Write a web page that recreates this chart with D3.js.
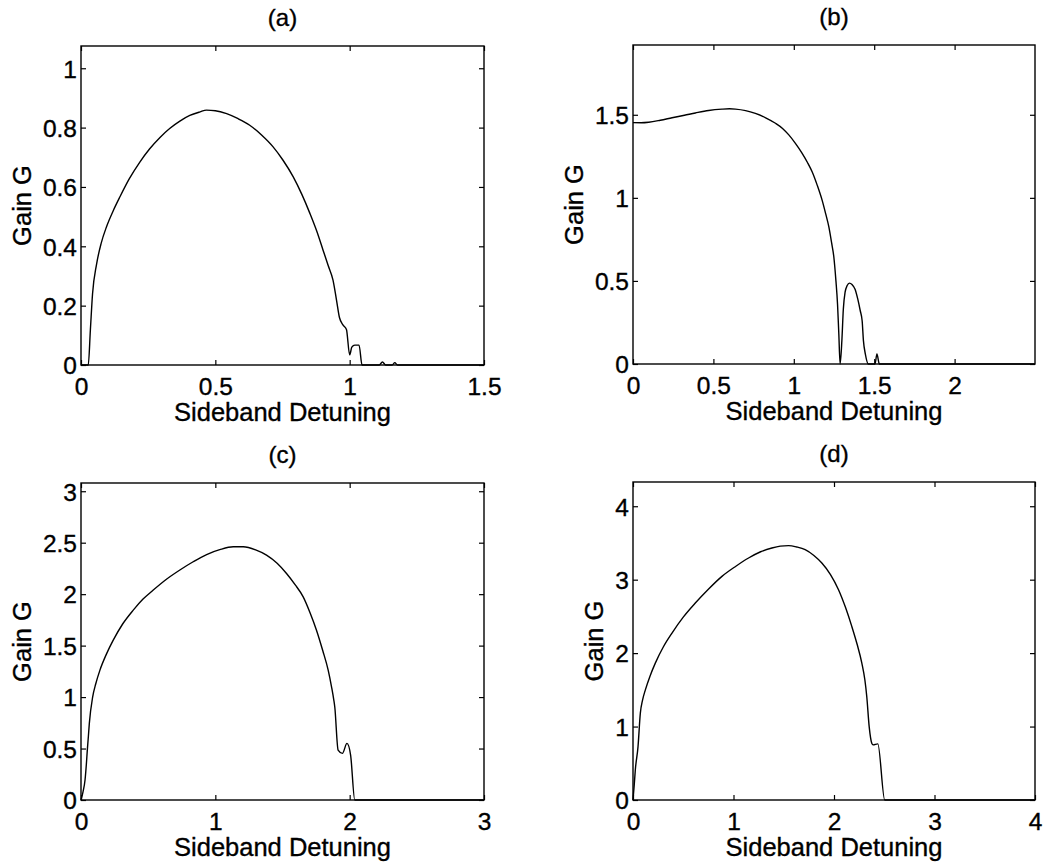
<!DOCTYPE html>
<html>
<head>
<meta charset="utf-8">
<script src="https://cdn.jsdelivr.net/npm/d3@7"></script>
<style>
  body { margin: 0; background: #fff; }
  svg { display: block; font-family: 'Liberation Sans', Arial, Helvetica, sans-serif; }
  svg text { fill: #000; stroke: #000; stroke-width: 0.35px; }
  .tick line { stroke: #000; stroke-width: 1.2; }
  .tick text { font-size: 24.5px; }
</style>
</head>
<body>
<svg id="chart" width="1045" height="867"></svg>
<script>
// values: [sideband detuning, gain G]
const gainA = [
  [0, 0], [0.027, 0], [0.035, 0.12], [0.043, 0.24], [0.058, 0.34], [0.075, 0.41],
  [0.095, 0.466], [0.12, 0.52], [0.145, 0.567], [0.18, 0.628], [0.219, 0.684],
  [0.255, 0.728], [0.294, 0.767], [0.33, 0.797], [0.368, 0.822], [0.405, 0.841],
  [0.443, 0.853], [0.467, 0.859], [0.5, 0.857], [0.542, 0.847], [0.585, 0.83],
  [0.628, 0.808], [0.672, 0.775], [0.715, 0.735], [0.752, 0.69], [0.79, 0.634],
  [0.822, 0.575], [0.852, 0.511], [0.878, 0.45], [0.901, 0.387], [0.92, 0.335],
  [0.938, 0.286], [0.951, 0.219], [0.962, 0.16], [0.975, 0.135], [0.988, 0.12],
  [1.0, 0.034], [1.008, 0.06], [1.019, 0.067], [1.035, 0.067], [1.046, 0],
  [1.11, 0], [1.122, 0.01], [1.134, 0], [1.158, 0], [1.168, 0.008], [1.178, 0], [1.5, 0]
];

const gainB = [
  [0, 1.453], [0.05, 1.452], [0.098, 1.455], [0.17, 1.467], [0.243, 1.482],
  [0.32, 1.497], [0.388, 1.511], [0.47, 1.526], [0.554, 1.534], [0.6, 1.536],
  [0.637, 1.534], [0.7, 1.525], [0.761, 1.508], [0.825, 1.482], [0.886, 1.449],
  [0.93, 1.418], [0.969, 1.379], [1.01, 1.328], [1.052, 1.268], [1.085, 1.213],
  [1.114, 1.157], [1.146, 1.075], [1.176, 0.986], [1.198, 0.905], [1.218, 0.825],
  [1.235, 0.73], [1.249, 0.644], [1.262, 0.5], [1.272, 0.36], [1.28, 0.18],
  [1.288, 0], [1.299, 0.141], [1.308, 0.33], [1.319, 0.432], [1.332, 0.472],
  [1.346, 0.487], [1.362, 0.478], [1.381, 0.45], [1.398, 0.39], [1.413, 0.322],
  [1.425, 0.26], [1.433, 0.141], [1.445, 0.06], [1.464, 0], [1.505, 0],
  [1.517, 0.06], [1.532, 0], [2.5, 0]
];

const gainC = [
  [0, 0], [0.015, 0.08], [0.03, 0.194], [0.04, 0.35], [0.047, 0.485], [0.055, 0.62],
  [0.062, 0.744], [0.087, 1.003], [0.11, 1.13], [0.141, 1.262], [0.19, 1.42],
  [0.24, 1.553], [0.31, 1.71], [0.389, 1.845], [0.46, 1.95], [0.538, 2.04],
  [0.636, 2.145], [0.736, 2.235], [0.835, 2.315], [0.935, 2.385], [1.033, 2.432],
  [1.133, 2.46], [1.208, 2.46], [1.3, 2.43], [1.381, 2.379], [1.46, 2.3],
  [1.53, 2.201], [1.595, 2.09], [1.654, 1.974], [1.705, 1.82], [1.753, 1.65],
  [1.8, 1.45], [1.84, 1.262], [1.865, 1.1], [1.882, 0.971], [1.889, 0.906],
  [1.914, 0.485], [1.946, 0.453], [1.98, 0.55], [2.007, 0.437], [2.038, 0], [3, 0]
];

const gainD = [
  [0, 0], [0.012, 0.2], [0.023, 0.409], [0.05, 0.727], [0.073, 1.182], [0.095, 1.36],
  [0.123, 1.5], [0.17, 1.69], [0.222, 1.864], [0.3, 2.08], [0.388, 2.273],
  [0.5, 2.49], [0.62, 2.682], [0.75, 2.87], [0.885, 3.045], [1.02, 3.18],
  [1.15, 3.295], [1.27, 3.38], [1.382, 3.432], [1.465, 3.457], [1.548, 3.464],
  [1.63, 3.445], [1.713, 3.409], [1.8, 3.33], [1.879, 3.227], [1.965, 3.07],
  [2.045, 2.864], [2.115, 2.62], [2.177, 2.364], [2.23, 2.12], [2.277, 1.864],
  [2.307, 1.637], [2.326, 1.409], [2.35, 1.0], [2.376, 0.773], [2.389, 0.75],
  [2.436, 0.764], [2.505, 0], [4, 0]
];

const titles = ['(a)', '(b)', '(c)', '(d)'];
const xMax = [1.5, 2.5, 3, 4];
const yMax = [1.075, 1.92, 3.08, 4.33];
const xTicks = [[0, 0.5, 1, 1.5], [0, 0.5, 1, 1.5, 2], [0, 1, 2, 3], [0, 1, 2, 3, 4]];
const yTicks = [[0, 0.2, 0.4, 0.6, 0.8, 1], [0, 0.5, 1, 1.5], [0, 0.5, 1, 1.5, 2, 2.5, 3], [0, 1, 2, 3, 4]];
const series = [gainA, gainB, gainC, gainD];

// plot boxes in page pixels
const boxes = [
  { left: 81, right: 484, top: 46, bottom: 365 },
  { left: 633, right: 1035, top: 45, bottom: 364 },
  { left: 81, right: 484, top: 483, bottom: 800 },
  { left: 633, right: 1035, top: 482, bottom: 800 },
];

const svg = d3.select('#chart');
const fmt = (d) => String(d);

boxes.forEach((box, i) => {
  const x = d3.scaleLinear().domain([0, xMax[i]]).range([box.left, box.right]);
  const y = d3.scaleLinear().domain([0, yMax[i]]).range([box.bottom, box.top]);
  const g = svg.append('g');

  g.append('g')
    .attr('transform', `translate(0,${box.bottom})`)
    .call(d3.axisBottom(x).tickValues(xTicks[i]).tickFormat(fmt).tickSizeInner(-5).tickSizeOuter(0).tickPadding(13));
  g.append('g')
    .attr('transform', `translate(0,${box.top})`)
    .call(d3.axisTop(x).tickValues(xTicks[i]).tickFormat('').tickSizeInner(-5).tickSizeOuter(0));
  const leftAxis = g.append('g')
    .attr('transform', `translate(${box.left},0)`)
    .call(d3.axisLeft(y).tickValues(yTicks[i]).tickFormat(fmt).tickSizeInner(-5).tickSizeOuter(0).tickPadding(4));
  g.append('g')
    .attr('transform', `translate(${box.right},0)`)
    .call(d3.axisRight(y).tickValues(yTicks[i]).tickFormat('').tickSizeInner(-5).tickSizeOuter(0));

  g.selectAll('.domain').remove();
  leftAxis.selectAll('text').attr('dy', '0.36em');

  g.append('rect')
    .attr('x', box.left)
    .attr('y', box.top)
    .attr('width', box.right - box.left)
    .attr('height', box.bottom - box.top)
    .attr('fill', 'none')
    .attr('stroke', '#000')
    .attr('stroke-width', 1.4);

  const line = d3.line()
    .x((d) => x(d[0]))
    .y((d) => y(d[1]))
    .curve(d3.curveMonotoneX);

  g.append('path')
    .datum(series[i])
    .attr('d', line)
    .attr('fill', 'none')
    .attr('stroke', '#000')
    .attr('stroke-width', 1.4);

  const midX = (box.left + box.right) / 2;

  g.append('text')
    .attr('x', midX)
    .attr('y', box.top - 20)
    .attr('text-anchor', 'middle')
    .attr('font-size', 24)
    .text(titles[i]);

  g.append('text')
    .attr('x', midX)
    .attr('y', box.bottom + 56)
    .attr('text-anchor', 'middle')
    .attr('font-size', 25.5)
    .text('Sideband Detuning');

  // y label sits just left of the widest tick label, like matlab does
  let widest = 0;
  leftAxis.selectAll('text').each(function () {
    widest = Math.max(widest, this.getComputedTextLength());
  });
  const labelX = box.left - 4 - widest - 12;

  g.append('text')
    .attr('transform', `translate(${labelX},${(box.top + box.bottom) / 2}) rotate(-90)`)
    .attr('text-anchor', 'middle')
    .attr('font-size', 25.5)
    .text('Gain G');
});
</script>
</body>
</html>
